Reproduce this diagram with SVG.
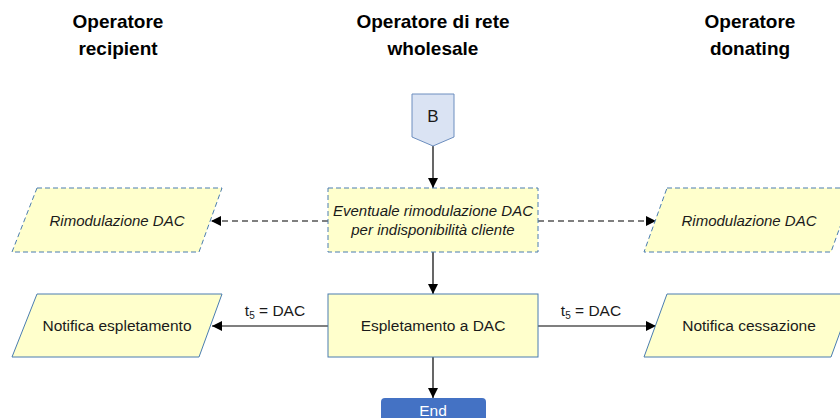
<svg xmlns="http://www.w3.org/2000/svg" width="840" height="418" viewBox="0 0 840 418">
<defs>
<style>
.hdr{font-family:"Liberation Sans",Arial,sans-serif;font-weight:bold;font-size:19px;fill:#000;text-anchor:middle}
.txt{font-family:"Liberation Sans",Arial,sans-serif;font-size:15.5px;fill:#1a1a1a;text-anchor:middle}
.it{font-style:italic;font-size:15px}
.box{fill:#FFFFCC;stroke:#4A7DB0;stroke-width:1}
.dash{stroke-dasharray:5,3}
.conn{stroke:#000;stroke-width:1.2;fill:none}
.cd{stroke-dasharray:6,4}
</style>
<marker id="arr" viewBox="0 0 10 10" refX="10" refY="5" markerWidth="10" markerHeight="10" markerUnits="userSpaceOnUse" orient="auto">
<path d="M0,0 L10,5 L0,10 z" fill="#000"/>
</marker>
</defs>
<rect width="840" height="418" fill="#fff"/>
<g id="headers">
<text class="hdr" x="118" y="28">Operatore</text>
<text class="hdr" x="118" y="55">recipient</text>
<text class="hdr" x="433" y="28">Operatore di rete</text>
<text class="hdr" x="433" y="55">wholesale</text>
<text class="hdr" x="750" y="28">Operatore</text>
<text class="hdr" x="750" y="55">donating</text>
</g>
<g id="connectors">
<line class="conn" x1="433" y1="146" x2="433" y2="188" marker-end="url(#arr)"/>
<line class="conn cd" x1="328" y1="221" x2="211" y2="221" marker-end="url(#arr)"/>
<line class="conn cd" x1="538" y1="221" x2="656" y2="221" marker-end="url(#arr)"/>
<line class="conn" x1="433" y1="252" x2="433" y2="294" marker-end="url(#arr)"/>
<line class="conn" x1="328" y1="326" x2="212" y2="326" marker-end="url(#arr)"/>
<line class="conn" x1="538" y1="326" x2="656" y2="326" marker-end="url(#arr)"/>
<line class="conn" x1="433" y1="357" x2="433" y2="398" marker-end="url(#arr)"/>
<text class="txt" x="275" y="316">t<tspan font-size="10" dy="3">5</tspan><tspan dy="-3"> = DAC</tspan></text>
<text class="txt" x="591" y="316">t<tspan font-size="10" dy="3">5</tspan><tspan dy="-3"> = DAC</tspan></text>
</g>
<g id="B">
<path d="M412,94 H454 V137 L433,146 L412,137 Z" fill="#DAE3F3" stroke="#6C8EBF" stroke-width="1"/>
<text class="txt" x="433" y="122" style="font-size:17px">B</text>
</g>
<g id="rimod-left">
<path class="box dash" d="M37,188 H222 L199,252 H12 Z"/>
<text class="txt it" x="117" y="226">Rimodulazione DAC</text>
</g>
<g id="eventuale">
<rect class="box dash" x="328" y="188" width="210" height="64"/>
<text class="txt it" x="433" y="216">Eventuale rimodulazione DAC</text>
<text class="txt it" x="433" y="235">per indisponibilità cliente</text>
</g>
<g id="rimod-right">
<path class="box dash" d="M667,188 H854 L831,252 H644 Z"/>
<text class="txt it" x="749" y="226">Rimodulazione DAC</text>
</g>
<g id="notifica-esp">
<path class="box" d="M37,294 H222 L199,357 H12 Z"/>
<text class="txt" x="117" y="331">Notifica espletamento</text>
</g>
<g id="espletamento">
<rect class="box" x="328" y="294" width="210" height="63"/>
<text class="txt" x="433" y="331">Espletamento a DAC</text>
</g>
<g id="notifica-cess">
<path class="box" d="M667,294 H854 L831,357 H644 Z"/>
<text class="txt" x="749" y="331">Notifica cessazione</text>
</g>
<g id="end">
<rect x="381" y="398" width="105" height="30" rx="4" fill="#4472C4"/>
<text class="txt" x="433" y="416" style="fill:#fff">End</text>
</g>
</svg>
